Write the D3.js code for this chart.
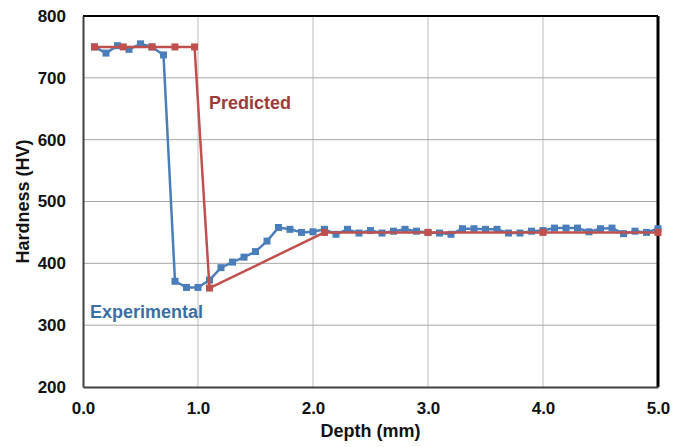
<!DOCTYPE html>
<html>
<head>
<meta charset="utf-8">
<script src="https://cdn.jsdelivr.net/npm/d3@7/dist/d3.min.js"></script>
<style>
  html, body { margin: 0; padding: 0; background: #fff; }
  svg { display: block; }
  text { font-family: "Liberation Sans", Arial, sans-serif; font-weight: bold; }
</style>
</head>
<body>
<svg id="chart" width="673" height="447"></svg>
<script>
// Measured hardness profile (0.1 mm steps)
const expDepth = [0.1,0.2,0.3,0.4,0.5,0.6,0.7,0.8,0.9,1.0,
                  1.1,1.2,1.3,1.4,1.5,1.6,1.7,1.8,1.9,2.0,
                  2.1,2.2,2.3,2.4,2.5,2.6,2.7,2.8,2.9,3.0,
                  3.1,3.2,3.3,3.4,3.5,3.6,3.7,3.8,3.9,4.0,
                  4.1,4.2,4.3,4.4,4.5,4.6,4.7,4.8,4.9,5.0];
const expHardness = [750,740,752,746,755,750,737,371,361,361,
                     373,393,402,410,419,436,458,455,450,451,
                     455,447,455,449,453,449,452,455,452,450,
                     449,447,456,456,455,455,449,449,452,453,
                     457,457,457,451,456,457,448,452,450,456];

// Model prediction
const predDepth = [0.1,0.35,0.6,0.8,0.97,1.1,2.1,3.0,4.0,5.0];
const predHardness = [750,750,750,750,750,360,450,450,450,450];

const xTicks = [0,1,2,3,4,5];
const yTicks = [200,300,400,500,600,700,800];

const blue = "#4a7ebb", red = "#c0504d";

const svg = d3.select("#chart");
const margin = {left: 83, right: 15, top: 16, bottom: 60};
const W = 673, H = 447;
const x = d3.scaleLinear().domain([0, 5]).range([margin.left, W - margin.right]);
const y = d3.scaleLinear().domain([200, 800]).range([H - margin.bottom, margin.top]);

// Gridlines
svg.append("g").selectAll("line.v").data(xTicks.slice(1, -1)).join("line")
  .attr("x1", d => x(d)).attr("x2", d => x(d))
  .attr("y1", y(800)).attr("y2", y(200))
  .attr("stroke", "#bdbdbd").attr("stroke-width", 1);
svg.append("g").selectAll("line.h").data(yTicks.slice(1, -1)).join("line")
  .attr("x1", x(0)).attr("x2", x(5))
  .attr("y1", d => y(d)).attr("y2", d => y(d))
  .attr("stroke", "#a6a6a6").attr("stroke-width", 1);

// Frame
svg.append("line").attr("x1", x(0)).attr("x2", x(5)).attr("y1", y(800)).attr("y2", y(800))
  .attr("stroke", "#000").attr("stroke-width", 2);
svg.append("line").attr("x1", x(5)).attr("x2", x(5)).attr("y1", y(800)).attr("y2", y(200))
  .attr("stroke", "#000").attr("stroke-width", 3);

// Axes
const xAxis = svg.append("g").attr("transform", `translate(0,${y(200)})`)
  .call(d3.axisBottom(x).tickValues(xTicks).tickFormat(d3.format(".1f")).tickSize(0).tickPadding(15));
const yAxis = svg.append("g").attr("transform", `translate(${x(0)},0)`)
  .call(d3.axisLeft(y).tickValues(yTicks).tickFormat(d3.format("d")).tickSize(0).tickPadding(17));
[xAxis, yAxis].forEach(g => {
  g.select(".domain").attr("stroke", "#404040").attr("stroke-width", 2);
  g.selectAll("text").attr("font-size", 17).attr("fill", "#111")
    .attr("font-family", "Liberation Sans, Arial, sans-serif").attr("font-weight", "bold");
});

// Axis titles
svg.append("text").attr("x", (x(0) + x(5)) / 2).attr("y", 437)
  .attr("text-anchor", "middle").attr("font-size", 18).attr("fill", "#111")
  .text("Depth (mm)");
svg.append("text").attr("transform", `translate(29,${(y(200) + y(800)) / 2}) rotate(-90)`)
  .attr("text-anchor", "middle").attr("font-size", 18).attr("fill", "#111")
  .text("Hardness (HV)");

// Series
const line = d3.line().x(d => x(d[0])).y(d => y(d[1]));
function series(depth, hard, color) {
  const pts = depth.map((d, i) => [d, hard[i]]);
  svg.append("path").datum(pts).attr("d", line)
    .attr("fill", "none").attr("stroke", color).attr("stroke-width", 2.5)
    .attr("stroke-linejoin", "round");
  svg.append("g").selectAll("rect").data(pts).join("rect")
    .attr("x", d => x(d[0]) - 3.5).attr("y", d => y(d[1]) - 3.5)
    .attr("width", 7).attr("height", 7).attr("fill", color);
}
series(expDepth, expHardness, blue);
series(predDepth, predHardness, red);

// Series labels
svg.append("text").attr("x", 209).attr("y", 109).attr("font-size", 18)
  .attr("fill", "#9e3b39").text("Predicted");
svg.append("text").attr("x", 90).attr("y", 318).attr("font-size", 18)
  .attr("fill", "#3b6ea3").text("Experimental");
</script>
</body>
</html>
